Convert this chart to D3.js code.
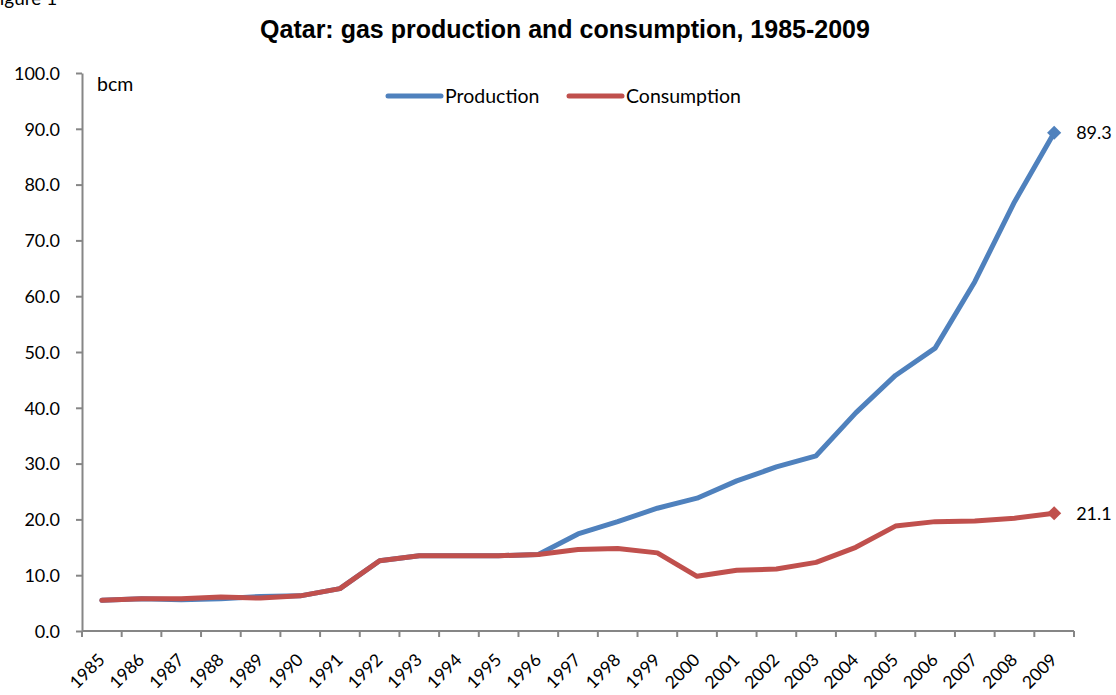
<!DOCTYPE html>
<html>
<head>
<meta charset="utf-8">
<script src="https://cdn.jsdelivr.net/npm/d3@7"></script>
<style>
  body { margin: 0; background: #fff; }
  text { font-family: Lato, "Open Sans", sans-serif; fill: #000; }
  .title { font-family: "Liberation Sans", Arial, sans-serif; font-weight: bold; }
  .axis path, .axis line { stroke: #868686; stroke-width: 2; }
</style>
</head>
<body>
<script>
(function () {
    //chart data
    var years = ["1985","1986","1987","1988","1989","1990","1991","1992","1993","1994","1995","1996",
        "1997","1998","1999","2000","2001","2002","2003","2004","2005","2006","2007","2008","2009"];
    var production = [5.5, 5.8, 5.6, 5.8, 6.2, 6.3, 7.6, 12.6, 13.5, 13.5, 13.5, 13.7,
        17.4, 19.6, 22.0, 23.8, 26.9, 29.4, 31.4, 39.1, 45.8, 50.7, 62.6, 76.9, 89.3];
    var consumption = [5.5, 5.8, 5.8, 6.1, 5.9, 6.3, 7.6, 12.6, 13.5, 13.5, 13.5, 13.7,
        14.6, 14.8, 14.0, 9.8, 10.9, 11.1, 12.3, 15.0, 18.8, 19.6, 19.7, 20.2, 21.1];
    var yTicks = [0, 10, 20, 30, 40, 50, 60, 70, 80, 90, 100];
    var seriesNames = ["Production", "Consumption"];
    var colors = ["#4F81BD", "#C0504D"];

    var width = 1116, height = 695;
    var svg = d3.select("body").append("svg")
        .attr("width", width)
        .attr("height", height);

    //plot area
    var left = 82, right = 1074, top = 73, bottom = 631;

    var x = d3.scaleBand().domain(years).range([left, right]);
    var y = d3.scaleLinear().domain([0, 100]).range([bottom, top]);

    //figure caption at the top edge (cut off in the source)
    svg.append("text")
        .attr("x", -11).attr("y", 5)
        .style("font-size", "19px")
        .text("Figure 1");

    //title
    svg.append("text")
        .attr("class", "title")
        .attr("x", 565).attr("y", 38)
        .attr("text-anchor", "middle")
        .style("font-size", "25px")
        .text("Qatar: gas production and consumption, 1985-2009");

    //y axis
    var yAxis = svg.append("g")
        .attr("class", "axis")
        .attr("transform", "translate(" + left + ",0)")
        .call(d3.axisLeft(y).tickValues(yTicks).tickSize(6).tickSizeOuter(0)
            .tickFormat(d3.format(".1f")));
    yAxis.selectAll("text")
        .attr("x", -22)
        .attr("dy", "0.35em")
        .style("font-size", "18px")
        .style("font-family", "Lato, sans-serif");

    //x axis with boundary ticks between categories
    var boundaries = years.map(function (d) { return x(d); }).concat([right]);
    var xg = svg.append("g").attr("class", "axis");
    xg.append("line")
        .attr("x1", left).attr("x2", right)
        .attr("y1", bottom).attr("y2", bottom);
    xg.selectAll(".tk")
        .data(boundaries)
        .enter()
        .append("line")
        .attr("class", "tk")
        .attr("x1", function (d) { return d; })
        .attr("x2", function (d) { return d; })
        .attr("y1", bottom).attr("y2", bottom + 6);
    xg.selectAll(".lbl")
        .data(years)
        .enter()
        .append("text")
        .attr("class", "lbl")
        .attr("text-anchor", "end")
        .style("font-size", "17.5px")
        .attr("transform", function (d) {
            return "translate(" + (x(d) + x.bandwidth() / 2 + 4) + "," + (bottom + 30) + ") rotate(-45)";
        })
        .text(function (d) { return d; });

    //unit label
    svg.append("text")
        .attr("x", 97).attr("y", 91)
        .style("font-size", "19.5px")
        .text("bcm");

    //lines
    var line = d3.line()
        .x(function (d, i) { return x(years[i]) + x.bandwidth() / 2; })
        .y(function (d) { return y(d); });

    [production, consumption].forEach(function (vals, k) {
        svg.append("path")
            .datum(vals)
            .attr("fill", "none")
            .attr("stroke", colors[k])
            .attr("stroke-width", 5)
            .attr("stroke-linejoin", "round")
            .attr("stroke-linecap", "round")
            .attr("d", line);

        //end marker and label
        var last = vals.length - 1;
        var cx = x(years[last]) + x.bandwidth() / 2, cy = y(vals[last]);
        svg.append("path")
            .attr("d", d3.symbol().type(d3.symbolSquare).size(100)())
            .attr("transform", "translate(" + cx + "," + cy + ") rotate(45)")
            .attr("fill", colors[k]);
        svg.append("text")
            .attr("x", cx + 22).attr("y", cy)
            .attr("dy", "0.35em")
            .style("font-size", "18px")
            .text(d3.format(".1f")(vals[last]));
    });

    //legend
    var legendX = [388, 569];
    seriesNames.forEach(function (name, k) {
        svg.append("line")
            .attr("x1", legendX[k]).attr("x2", legendX[k] + 53)
            .attr("y1", 96).attr("y2", 96)
            .attr("stroke", colors[k])
            .attr("stroke-width", 5)
            .attr("stroke-linecap", "round");
        svg.append("text")
            .attr("x", legendX[k] + 57).attr("y", 96)
            .attr("dy", "0.35em")
            .style("font-size", "19.5px")
            .text(name);
    });
})();
</script>
</body>
</html>
